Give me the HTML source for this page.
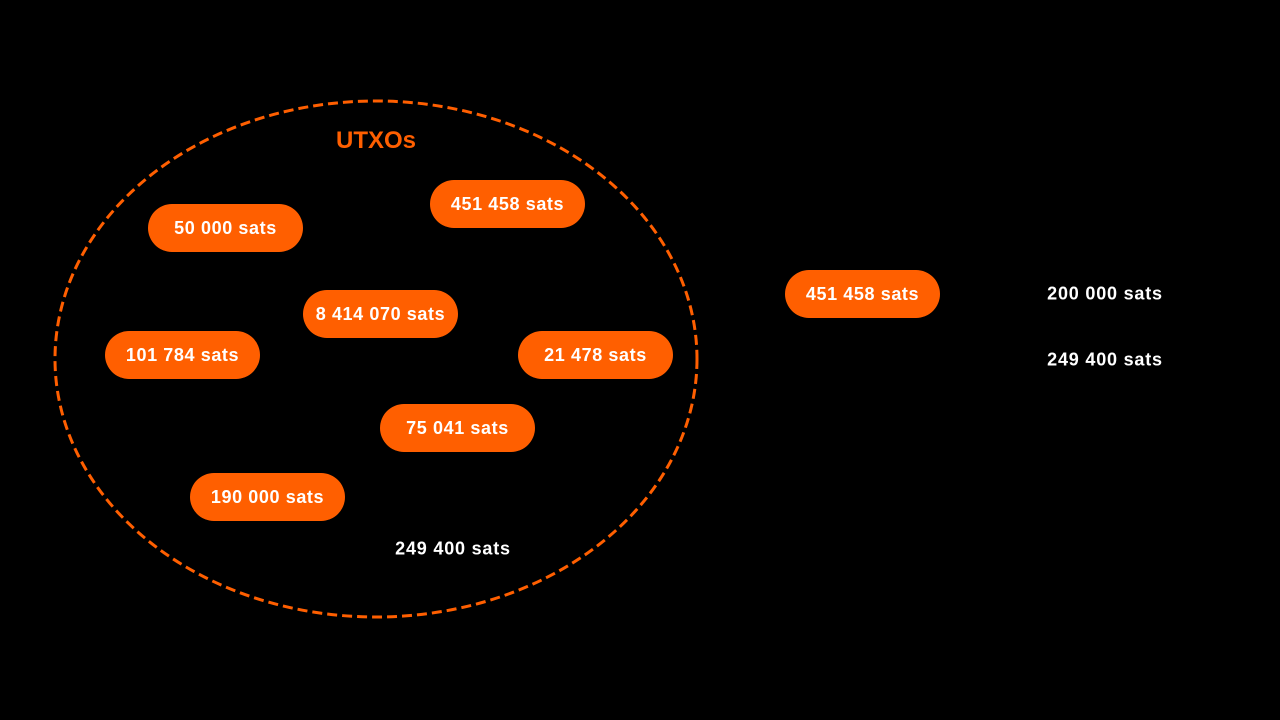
<!DOCTYPE html>
<html><head><style>
body{margin:0;width:1280px;height:720px;background:#000;position:relative;overflow:hidden;font-family:"Liberation Sans",sans-serif}
.p{position:absolute;width:155px;height:48px;border-radius:24px;background:#ff5f00;color:#fff;font-size:18px;letter-spacing:0.6px;font-weight:bold;display:flex;align-items:center;justify-content:center}
.t{position:absolute;color:#fff;font-size:18px;letter-spacing:0.8px;font-weight:bold;transform:translate(-50%,-50%);white-space:nowrap}
</style></head><body>
<svg width="1280" height="720" style="position:absolute;left:0;top:0">
<ellipse cx="376" cy="359" rx="321" ry="258" fill="none" stroke="#ff5f00" stroke-width="3" stroke-dasharray="10 5"/>
</svg>
<div style="position:absolute;left:336px;top:127px;color:#ff5f00;font-size:24px;font-weight:bold">UTXOs</div>
<div class="p" style="left:148px;top:204px">50 000 sats</div>
<div class="p" style="left:430px;top:180px">451 458 sats</div>
<div class="p" style="left:303px;top:290px">8 414 070 sats</div>
<div class="p" style="left:105px;top:331px">101 784 sats</div>
<div class="p" style="left:518px;top:331px">21 478 sats</div>
<div class="p" style="left:380px;top:404px">75 041 sats</div>
<div class="p" style="left:190px;top:473px">190 000 sats</div>
<div class="p" style="left:785px;top:270px">451 458 sats</div>
<div class="t" style="left:453px;top:549px">249 400 sats</div>
<div class="t" style="left:1105px;top:294px">200 000 sats</div>
<div class="t" style="left:1105px;top:360px">249 400 sats</div>
</body></html>
